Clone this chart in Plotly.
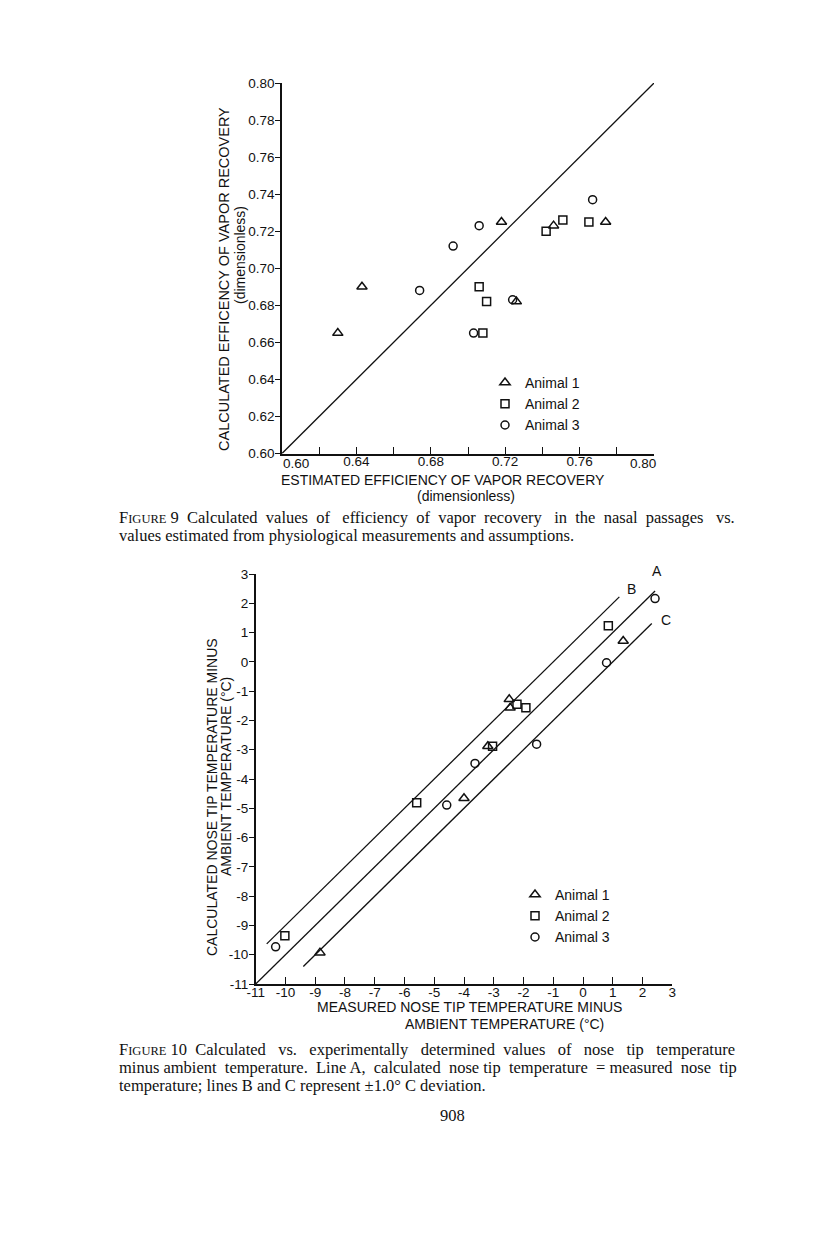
import plotly.graph_objects as go

# ---------------- data: Figure 9 ----------------
fig9_ticks = [0.60, 0.62, 0.64, 0.66, 0.68, 0.70, 0.72, 0.74, 0.76, 0.78, 0.80]
fig9_xlabels = ["0.60", "", "0.64", "", "0.68", "", "0.72", "", "0.76", "", "0.80"]
fig9_yticktext = ["0.60", "0.62", "0.64", "0.66", "0.68", "0.70", "0.72", "0.74", "0.76", "0.78", "0.80"]
fig9_identity = [0.60, 0.80]

animal1_est = [0.718, 0.746, 0.774, 0.643, 0.630, 0.726]
animal1_calc = [0.725, 0.723, 0.725, 0.690, 0.665, 0.682]
animal2_est = [0.742, 0.751, 0.765, 0.706, 0.710, 0.708]
animal2_calc = [0.720, 0.726, 0.725, 0.690, 0.682, 0.665]
animal3_est = [0.692, 0.706, 0.767, 0.674, 0.724, 0.703]
animal3_calc = [0.712, 0.723, 0.737, 0.688, 0.683, 0.665]

# ---------------- data: Figure 10 ----------------
fig10_ticks = [-11, -10, -9, -8, -7, -6, -5, -4, -3, -2, -1, 0, 1, 2, 3]
fig10_ticktext = ["-11", "-10", "-9", "-8", "-7", "-6", "-5", "-4", "-3", "-2", "-1", "0", "1", "2", "3"]

animal1_meas = [1.35, -2.48, -2.45, -3.20, -4.00, -8.84]
animal1_calc10 = [0.71, -1.28, -1.57, -2.88, -4.66, -9.93]
animal2_meas = [0.85, -2.22, -1.92, -3.04, -5.59, -10.02]
animal2_calc10 = [1.23, -1.45, -1.57, -2.88, -4.81, -9.35]
animal3_meas = [2.42, 0.79, -3.63, -1.56, -4.58, -10.33]
animal3_calc10 = [2.16, -0.03, -3.47, -2.81, -4.89, -9.73]

line_names = ["A", "B", "C"]
line_x = [[-11.0, 2.42], [-10.63, 1.22], [-9.40, 2.31]]
line_y = [[-11.0, 2.42], [-9.63, 2.22], [-10.40, 1.31]]

series_names = ["Animal 1", "Animal 2", "Animal 3"]
symbols = ["triangle-up-open", "square-open", "circle-open"]

# ---------------- layout helpers ----------------
W, H = 816, 1247
OFF = 8  # page body margin
NB = "\u00a0"
def px(x):
    return (x - OFF) / W
def py(y):
    return 1 - (y - OFF) / H

SANS = "Liberation Sans, Arial, sans-serif"
SERIF = "Liberation Serif, Times New Roman, serif"
INK = "#111111"

fig = go.Figure()

# Figure 9
fig.add_trace(go.Scatter(x=fig9_identity, y=fig9_identity, mode="lines",
                         line=dict(color=INK, width=1.3), showlegend=False,
                         hoverinfo="skip", xaxis="x", yaxis="y"))
for name, sym, xs, ys in zip(series_names, symbols,
                             [animal1_est, animal2_est, animal3_est],
                             [animal1_calc, animal2_calc, animal3_calc]):
    fig.add_trace(go.Scatter(x=xs, y=ys, mode="markers", name=name,
                             marker=dict(symbol=sym, size=8 if "tri" not in sym else 9,
                                         color=INK, line=dict(color=INK, width=1.5)),
                             xaxis="x", yaxis="y", legend="legend"))

# Figure 10
for lx, ly in zip(line_x, line_y):
    fig.add_trace(go.Scatter(x=lx, y=ly, mode="lines",
                             line=dict(color=INK, width=1.3), showlegend=False,
                             hoverinfo="skip", xaxis="x2", yaxis="y2"))
for name, sym, xs, ys in zip(series_names, symbols,
                             [animal1_meas, animal2_meas, animal3_meas],
                             [animal1_calc10, animal2_calc10, animal3_calc10]):
    fig.add_trace(go.Scatter(x=xs, y=ys, mode="markers", name=name,
                             marker=dict(symbol=sym, size=8 if "tri" not in sym else 9,
                                         color=INK, line=dict(color=INK, width=1.5)),
                             xaxis="x2", yaxis="y2", legend="legend2"))

TICKFONT = dict(family=SANS, size=13.5, color=INK)
axis_common = dict(showgrid=False, zeroline=False, showline=True, linecolor=INK,
                   linewidth=1.5, tickcolor=INK, tickwidth=1.3, automargin=False,
                   tickfont=TICKFONT)

# the two end labels of the Figure 9 x axis sit inward of their ticks in the print;
# they are drawn as annotations anchored on their tick values
fig9_xticktext = ["" if i in (0, len(fig9_xlabels) - 1) else t for i, t in enumerate(fig9_xlabels)]

fig.update_layout(
    width=W, height=H, autosize=False,
    margin=dict(l=0, r=0, t=0, b=0, pad=0, autoexpand=False),
    paper_bgcolor="white", plot_bgcolor="white",
    font=dict(family=SANS, color=INK),
    xaxis=dict(domain=[px(282), px(654)], range=[0.60, 0.80], anchor="y",
               tickmode="array", tickvals=fig9_ticks, ticktext=fig9_xticktext,
               ticks="inside", ticklen=7, ticklabelstandoff=-5, **axis_common),
    yaxis=dict(domain=[py(453.5), py(83)], range=[0.60, 0.80], anchor="x",
               tickmode="array", tickvals=fig9_ticks, ticktext=fig9_yticktext,
               ticks="outside", ticklen=5, ticklabelstandoff=-2, **axis_common),
    xaxis2=dict(domain=[px(255.7), px(672.3)], range=[-11, 3], anchor="y2",
                tickmode="array", tickvals=fig10_ticks, ticktext=fig10_ticktext,
                ticks="inside", ticklen=7, ticklabelstandoff=-5, **axis_common),
    yaxis2=dict(domain=[py(984), py(574)], range=[-11, 3], anchor="x2",
                tickmode="array", tickvals=fig10_ticks, ticktext=fig10_ticktext,
                ticks="outside", ticklen=5, ticklabelstandoff=-2, **axis_common),
    legend=dict(x=px(485), y=py(367), xanchor="left", yanchor="top",
                bgcolor="rgba(0,0,0,0)", font=dict(family=SANS, size=14, color=INK),
                tracegroupgap=0),
    legend2=dict(x=px(515), y=py(879), xanchor="left", yanchor="top",
                 bgcolor="rgba(0,0,0,0)", font=dict(family=SANS, size=14, color=INK),
                 tracegroupgap=0),
    showlegend=True,
)

ann = []
for i, shift in ((0, 14), (len(fig9_xlabels) - 1, -11)):
    ann.append(dict(text=fig9_xlabels[i], x=fig9_ticks[i], xref="x", y=py(463), yref="paper",
                    xshift=shift, showarrow=False, xanchor="center", yanchor="middle",
                    font=TICKFONT))

def title(text, x, y, angle=0, size=14):
    ann.append(dict(text=text, x=px(x), y=py(y), xref="paper", yref="paper",
                    showarrow=False, textangle=angle, xanchor="center", yanchor="middle",
                    font=dict(family=SANS, size=size, color=INK)))

title("ESTIMATED EFFICIENCY OF VAPOR RECOVERY", 443, 480)
title("(dimensionless)", 466, 496)
title("CALCULATED EFFICENCY OF VAPOR RECOVERY", 224, 279, -90, 14.5)
title("(dimensionless)", 240, 255, -90)
title("MEASURED NOSE TIP TEMPERATURE MINUS", 469, 1007)
title("AMBIENT TEMPERATURE (°C)", 505, 1024)
title("CALCULATED NOSE TIP TEMPERATURE MINUS", 212, 797, -90)
title("AMBIENT TEMPERATURE (°C)", 226, 777, -90)

# line labels A, B, C at the end of each line
label_shift = {"A": (2, 10), "B": (6, 8), "C": (7, 3)}
for nm, lx, ly in zip(line_names, line_x, line_y):
    dx, dy = label_shift[nm]
    ann.append(dict(text=nm, x=lx[1], y=ly[1], xref="x2", yref="y2", showarrow=False,
                    xshift=dx, yshift=dy, xanchor="left" if nm != "A" else "center",
                    yanchor="bottom" if nm == "A" else "middle",
                    font=dict(family=SANS, size=14, color=INK)))

# captions (justified lines get extra word spacing, as in the printed page)
def justify(text, extra):
    words = text.split(" ")
    gaps = len(words) - 1
    out = words[0]
    for i, w in enumerate(words[1:]):
        n = (extra * (i + 1)) // gaps - (extra * i) // gaps
        out += " " + NB * n + w
    return out

SC = '<span style="font-size:12.5px">IGURE</span>'
captions = [
    ("F" + SC + " " + justify("9 Calculated values of efficiency of vapor recovery in the nasal passages vs.", 15), 517),
    ("values estimated from physiological measurements and assumptions.", 535),
    ("F" + SC + " " + justify("10 Calculated vs. experimentally determined values of nose tip temperature", 16), 1049),
    (justify("minus ambient temperature. Line A, calculated nose tip temperature = measured nose tip", 8), 1067),
    ("temperature; lines B and C represent ±1.0° C deviation.", 1085),
]
for text, y in captions:
    ann.append(dict(text=text, x=px(117), y=py(y), xref="paper", yref="paper",
                    showarrow=False, xanchor="left", yanchor="middle", align="left",
                    font=dict(family=SERIF, size=16.5, color=INK)))
ann.append(dict(text="908", x=px(453), y=py(1115), xref="paper", yref="paper",
                showarrow=False, xanchor="center", yanchor="middle",
                font=dict(family=SERIF, size=16.5, color=INK)))

fig.update_layout(annotations=ann)
fig.write_html("out.html")
